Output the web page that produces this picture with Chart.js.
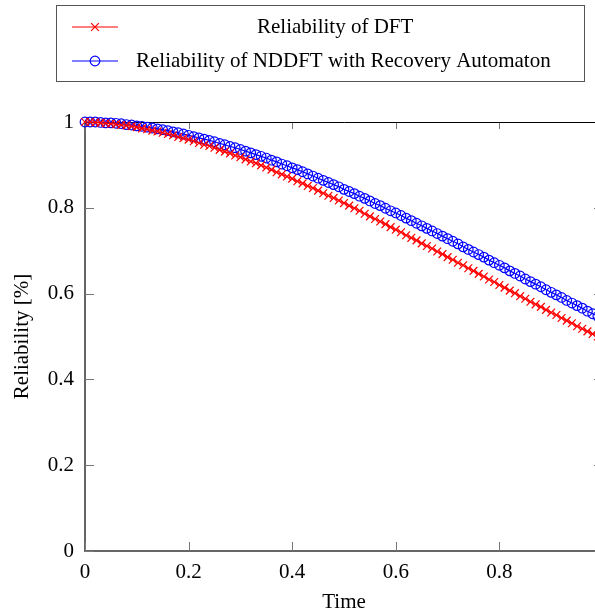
<!DOCTYPE html>
<html>
<head>
<meta charset="utf-8">
<script src="https://cdn.jsdelivr.net/npm/chart.js@4"></script>
<style>
html, body { margin: 0; padding: 0; overflow: hidden; background: #fff; }
</style>
</head>
<body>
<canvas id="chart" width="640" height="640"></canvas>
<script>
// values
var times = [0,0.01,0.02,0.03,0.04,0.05,0.06,0.07,0.08,0.09,
  0.1,0.11,0.12,0.13,0.14,0.15,0.16,0.17,0.18,0.19,
  0.2,0.21,0.22,0.23,0.24,0.25,0.26,0.27,0.28,0.29,
  0.3,0.31,0.32,0.33,0.34,0.35,0.36,0.37,0.38,0.39,
  0.4,0.41,0.42,0.43,0.44,0.45,0.46,0.47,0.48,0.49,
  0.5,0.51,0.52,0.53,0.54,0.55,0.56,0.57,0.58,0.59,
  0.6,0.61,0.62,0.63,0.64,0.65,0.66,0.67,0.68,0.69,
  0.7,0.71,0.72,0.73,0.74,0.75,0.76,0.77,0.78,0.79,
  0.8,0.81,0.82,0.83,0.84,0.85,0.86,0.87,0.88,0.89,
  0.9,0.91,0.92,0.93,0.94,0.95,0.96,0.97,0.98,0.99,1];

var dftReliability = [1.000,1.000,0.999,0.998,0.997,0.996,0.995,0.993,0.992,0.990,
  0.988,0.985,0.983,0.980,0.978,0.975,0.972,0.969,0.965,0.962,
  0.959,0.955,0.951,0.947,0.944,0.940,0.935,0.931,0.927,0.922,
  0.918,0.913,0.908,0.904,0.899,0.894,0.889,0.883,0.878,0.873,
  0.868,0.862,0.857,0.851,0.846,0.840,0.834,0.828,0.823,0.817,
  0.811,0.805,0.799,0.793,0.786,0.780,0.774,0.768,0.762,0.755,
  0.749,0.743,0.736,0.730,0.724,0.717,0.711,0.705,0.698,0.692,
  0.685,0.679,0.672,0.666,0.659,0.653,0.646,0.640,0.633,0.627,
  0.620,0.614,0.607,0.601,0.594,0.588,0.581,0.575,0.569,0.562,
  0.556,0.550,0.543,0.537,0.531,0.524,0.518,0.512,0.506,0.500,
  0.494];

var nddftReliability = [1.000,1.000,1.000,0.999,0.998,0.998,0.997,0.996,0.994,0.993,
  0.991,0.990,0.988,0.986,0.984,0.982,0.980,0.977,0.975,0.972,
  0.969,0.966,0.963,0.960,0.957,0.954,0.950,0.947,0.943,0.940,
  0.936,0.932,0.928,0.924,0.920,0.916,0.911,0.907,0.902,0.898,
  0.893,0.889,0.884,0.879,0.874,0.869,0.864,0.859,0.854,0.849,
  0.843,0.838,0.833,0.827,0.822,0.816,0.810,0.805,0.799,0.793,
  0.788,0.782,0.776,0.770,0.764,0.758,0.752,0.746,0.740,0.734,
  0.728,0.722,0.716,0.709,0.703,0.697,0.691,0.685,0.678,0.672,
  0.666,0.660,0.653,0.647,0.641,0.634,0.628,0.622,0.616,0.609,
  0.603,0.597,0.591,0.584,0.578,0.572,0.566,0.559,0.553,0.547,
  0.541];

var xTicks = [0, 0.2, 0.4, 0.6, 0.8, 1];
var yTicks = [0, 0.2, 0.4, 0.6, 0.8, 1];
var seriesNames = ['Reliability of DFT', 'Reliability of NDDFT with Recovery Automaton'];

Chart.defaults.font.family = "'Liberation Serif', 'Times New Roman', serif";
Chart.defaults.font.size = 21;
Chart.defaults.color = '#000';

function toPoints(ys){
  return ys.map(function(v, i){ return {x: times[i], y: v}; });
}

// ticks pointing into the plot + top/right frame
var innerTicks = {
  id: 'innerTicks',
  beforeDatasetsDraw: function(chart){
    var ctx = chart.ctx, a = chart.chartArea;
    var sx = chart.scales.x, sy = chart.scales.y;
    ctx.save();
    ctx.strokeStyle = '#777';
    ctx.lineWidth = 1;
    ctx.beginPath();
    xTicks.forEach(function(v){
      var px = Math.round(sx.getPixelForValue(v)) + 0.5;
      ctx.moveTo(px, a.bottom); ctx.lineTo(px, a.bottom - 9);
      ctx.moveTo(px, a.top); ctx.lineTo(px, a.top + 7);
    });
    yTicks.forEach(function(v){
      var py = Math.round(sy.getPixelForValue(v)) + 0.5;
      ctx.moveTo(a.left, py); ctx.lineTo(a.left + 9, py);
      ctx.moveTo(a.right, py); ctx.lineTo(a.right - 9, py);
    });
    ctx.stroke();
    ctx.strokeStyle = '#000';
    ctx.beginPath();
    ctx.moveTo(a.left, a.top + 0.5);
    ctx.lineTo(a.right + 0.5, a.top + 0.5);
    ctx.lineTo(a.right + 0.5, a.bottom);
    ctx.stroke();
    ctx.restore();
  }
};

// framed legend like the pgfplots one
var legendRows = [27, 61];
var legendTextX = [257, 136];
var boxLegend = {
  id: 'boxLegend',
  afterDraw: function(chart){
    var ctx = chart.ctx;
    ctx.save();
    ctx.strokeStyle = '#555';
    ctx.lineWidth = 1;
    ctx.strokeRect(56.5, 5.5, 528, 76);
    chart.data.datasets.forEach(function(ds, i){
      var y = legendRows[i];
      ctx.strokeStyle = ds.borderColor;
      ctx.fillStyle = 'rgba(0,0,0,0)';
      ctx.lineWidth = 1.2;
      ctx.beginPath();
      ctx.moveTo(72, y); ctx.lineTo(118, y);
      ctx.stroke();
      Chart.helpers.drawPoint(ctx, {pointStyle: ds.pointStyle, radius: ds.pointRadius, borderWidth: 1.2, rotation: 0}, 95, y);
      ctx.fillStyle = '#000';
      ctx.font = "21px 'Liberation Serif'";
      ctx.textBaseline = 'middle';
      ctx.textAlign = 'left';
      ctx.fillText(ds.label, legendTextX[i], y);
    });
    ctx.restore();
  }
};

new Chart(document.getElementById('chart'), {
  type: 'line',
  data: {
    datasets: [{
      label: seriesNames[0],
      data: toPoints(dftReliability),
      borderColor: '#ff0000',
      backgroundColor: 'rgba(0,0,0,0)',
      borderWidth: 1.2,
      pointStyle: 'crossRot',
      pointRadius: 5.5,
      pointBorderWidth: 1.2,
      clip: false
    }, {
      label: seriesNames[1],
      data: toPoints(nddftReliability),
      borderColor: '#0000ff',
      backgroundColor: 'rgba(0,0,0,0)',
      borderWidth: 1.2,
      pointStyle: 'circle',
      pointRadius: 4.8,
      pointBorderWidth: 1.2,
      clip: false
    }]
  },
  options: {
    responsive: false,
    animation: false,
    layout: { padding: { top: 122, left: 0, right: 37, bottom: 19 } },
    plugins: { legend: { display: false }, tooltip: { enabled: false } },
    elements: { line: { tension: 0 } },
    scales: {
      x: {
        type: 'linear', min: 0, max: 1,
        afterBuildTicks: function(s){ s.ticks = xTicks.map(function(v){ return {value: v}; }); },
        afterFit: function(s){ s.height = 70; },
        ticks: { padding: 9, maxRotation: 0, callback: function(v){ return String(v); } },
        grid: { drawOnChartArea: false, drawTicks: false },
        border: { color: '#666', width: 2 },
        title: { display: true, text: 'Time', padding: { top: 0, bottom: 6 } }
      },
      y: {
        type: 'linear', min: 0, max: 1,
        afterBuildTicks: function(s){ s.ticks = yTicks.map(function(v){ return {value: v}; }); },
        afterFit: function(s){ s.width = 85; },
        ticks: { padding: 11, callback: function(v){ return String(v); } },
        grid: { drawOnChartArea: false, drawTicks: false },
        border: { color: '#666', width: 2 },
        title: { display: true, text: 'Reliability [%]', padding: { top: 10, bottom: 0 } }
      }
    }
  },
  plugins: [innerTicks, boxLegend]
});
</script>
</body>
</html>
